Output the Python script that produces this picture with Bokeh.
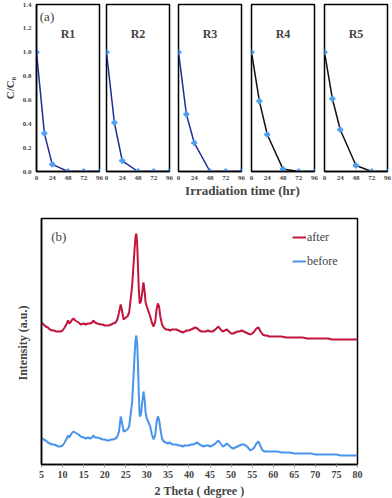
from bokeh.plotting import figure
from bokeh.layouts import column, row
from bokeh.models import Label, Legend, FixedTicker, Range1d, PrintfTickFormatter
from bokeh.embed import file_html
from bokeh.resources import INLINE

# ---------------- data: panel (a) photocatalytic runs ----------------
time_hr = [0, 12, 24, 48, 72, 96]
run_names = ["R1", "R2", "R3", "R4", "R5"]
r1 = [1.0, 0.32, 0.06, 0.0, 0.0, 0.0]
r2 = [1.0, 0.41, 0.09, 0.0, 0.0, 0.0]
r3 = [1.0, 0.48, 0.24, 0.0, 0.0, 0.0]
r4 = [1.0, 0.59, 0.31, 0.02, 0.0, 0.0]
r5 = [1.0, 0.61, 0.35, 0.05, 0.0, 0.0]
run_values = [r1, r2, r3, r4, r5]
time_ticks = [0, 24, 48, 72, 96]
cc0_ticks = [0.0, 0.2, 0.4, 0.6, 0.8, 1.0, 1.2, 1.4]

# ---------------- data: panel (b) XRD patterns ----------------
two_theta = [
    5, 5.5, 6, 6.5, 7, 7.5, 8, 8.5, 9, 9.5, 10, 10.5, 11,
    11.3, 11.6, 12, 12.3, 12.6, 13, 13.4, 13.8, 14.3, 15,
    15.5, 16, 16.5, 17, 17.3, 17.7, 18.2, 19, 19.5, 20, 20.6, 21, 21.5, 22, 22.6, 23, 23.4,
    23.8, 24.1, 24.5, 25, 25.4, 25.8, 26.1, 26.5, 26.8, 27.1, 27.3, 27.5, 27.7, 27.9, 28.1, 28.3, 28.6, 28.9,
    29.2, 29.5, 29.7, 30, 30.4, 30.8, 31.2, 31.6, 32, 32.3, 32.6, 32.9, 33.2, 33.6, 34, 34.5, 35,
    35.5, 36, 36.5, 37, 37.5, 38, 38.5, 39, 39.5, 40, 40.5, 41, 41.5, 42, 42.5, 43, 43.5, 44, 44.5, 45,
    45.5, 46, 46.5, 47, 47.5, 48, 48.5, 49, 49.5, 50, 50.5, 51, 51.5, 52, 52.5, 53, 53.5, 54,
    54.6, 55, 55.5, 56, 56.5, 57, 57.5, 58, 58.5, 59,
    60, 61, 62, 63, 64, 65, 66, 67, 68, 69, 70, 71, 72, 73, 74, 75, 76, 77, 78, 79, 80,
]
before = [
    27, 25, 24, 22, 21, 20, 20, 19, 18, 18, 19, 22, 26,
    29, 27, 30, 32, 33, 32, 31, 30, 28, 27,
    26, 27, 26, 27, 29, 27, 27, 26, 25, 25, 24, 24, 25, 25, 26, 28, 33,
    48, 42, 33, 34, 35, 38, 48, 62, 85, 110, 124, 129, 122, 100, 70, 48, 50, 62,
    73, 64, 52, 46, 42, 38, 30, 25, 30, 42, 48, 45, 36, 26, 23, 22, 21,
    22, 20, 20, 20, 19, 19, 18, 19, 19, 19, 20, 20, 21, 22, 20, 19, 18, 19, 19, 18,
    19, 20, 22, 24, 21, 18, 19, 21, 19, 17, 16, 17, 18, 19, 20, 20, 19, 17,
    14, 15, 17, 21, 23, 18, 14, 13, 13, 13,
    13, 13, 12, 12, 12, 11, 11, 11, 11, 11, 10, 10, 10, 10, 10, 10, 9, 9, 9, 9, 9,
]
after = [
    142, 140, 138, 137, 135, 134, 134, 133, 133, 133, 134, 137, 141,
    144, 141, 143, 145, 146, 144, 143, 142, 140, 141,
    140, 141, 141, 142, 144, 142, 141, 140, 140, 139, 139, 139, 140, 141, 142, 145, 152,
    160, 154, 145, 147, 148, 152, 163, 178, 197, 216, 227, 231, 222, 198, 175, 161, 163, 172,
    182, 172, 162, 158, 153, 148, 142, 138, 143, 155, 161, 158, 148, 140, 137, 135, 135,
    134, 135, 135, 135, 134, 133, 132, 133, 134, 134, 135, 136, 137, 136, 134, 133, 133, 133, 134, 133,
    133, 134, 136, 138, 135, 133, 134, 135, 133, 131, 131, 132, 133, 133, 134, 133, 132, 131,
    130, 131, 133, 136, 137, 133, 130, 129, 129, 128,
    128, 128, 128, 127, 127, 127, 127, 127, 126, 126, 126, 126, 126, 126, 125, 125, 125, 125, 125, 125, 125,
]
theta_ticks = list(range(5, 81, 5))

FONT = "Liberation Serif"
NAVY = "#1d2c96"
MARK = "#4f9ef2"
RED = "#c0163d"
BLUE = "#4a94ec"

# left/right borders of each small panel (sets the gaps between frames)
left_borders = [31, 3, 5, 6, 6]
right_borders = [4, 4, 4, 4, 6]

# ---------------- panel (a) ----------------
top_figs = []
for i, (name, vals) in enumerate(zip(run_names, run_values)):
    first = (i == 0)
    p = figure(frame_width=63, frame_height=167,
               x_range=Range1d(0, 96), y_range=Range1d(0, 1.4),
               output_backend="svg", toolbar_location=None,
               min_border_top=4, min_border_right=right_borders[i],
               min_border_left=left_borders[i], min_border_bottom=2)
    p.grid.visible = False
    p.outline_line_color = "black"
    p.outline_line_width = 1.5
    p.background_fill_color = "white"
    p.xaxis.ticker = FixedTicker(ticks=time_ticks)
    p.xaxis.major_label_text_font = FONT
    p.xaxis.major_label_text_font_style = "bold"
    p.xaxis.major_label_text_font_size = "7px"
    p.xaxis.major_tick_out = 0
    p.xaxis.major_tick_in = 0
    p.xaxis.minor_tick_out = 0
    p.xaxis.minor_tick_in = 0
    p.xaxis.major_label_standoff = 4
    p.xaxis.axis_line_width = 1.5
    if first:
        p.yaxis.ticker = FixedTicker(ticks=cc0_ticks)
        p.yaxis.formatter = PrintfTickFormatter(format="%.1f")
        p.yaxis.major_label_text_font = FONT
        p.yaxis.major_label_text_font_style = "bold"
        p.yaxis.major_label_text_font_size = "7px"
        p.yaxis.major_tick_out = 0
        p.yaxis.major_tick_in = 0
        p.yaxis.minor_tick_out = 0
        p.yaxis.minor_tick_in = 0
        p.yaxis.major_label_standoff = 5
        p.yaxis.axis_line_width = 1.5
        p.yaxis.axis_label = "C/C\u2080"
        p.yaxis.axis_label_text_font = FONT
        p.yaxis.axis_label_text_font_style = "bold"
        p.yaxis.axis_label_text_font_size = "11px"
        p.yaxis.axis_label_standoff = 4
        p.add_layout(Label(x=5, y=1.30, text="(a)", text_font=FONT,
                           text_font_size="13px", text_baseline="middle"))
    else:
        p.yaxis.visible = False
    line_color = NAVY if i < 3 else "#111111"
    p.line(time_hr, vals, line_color=line_color, line_width=1.5)
    p.scatter(time_hr, vals, marker="plus", size=5, fill_color=MARK,
              line_color=MARK)
    p.add_layout(Label(x=48, y=1.15, text=name, text_font=FONT,
                       text_font_style="bold", text_font_size="12px",
                       text_align="center", text_baseline="middle"))
    top_figs.append(p)

# x-axis title shared by the five panels
lab = figure(width=388, height=18, output_backend="svg", toolbar_location=None,
             x_range=Range1d(0, 1), y_range=Range1d(0, 1),
             min_border=0)
lab.axis.visible = False
lab.grid.visible = False
lab.outline_line_color = None
lab.add_layout(Label(x=201, y=10, x_units="screen", y_units="screen",
                     text="Irradiation time (hr)", text_font=FONT,
                     text_font_style="bold", text_font_size="13px",
                     text_align="center", text_baseline="middle"))

# ---------------- panel (b) ----------------
pb = figure(frame_width=316, frame_height=246,
            x_range=Range1d(5, 80), y_range=Range1d(0, 246),
            output_backend="svg", toolbar_location=None,
            min_border_top=18, min_border_left=41, min_border_right=10,
            min_border_bottom=4)
pb.grid.visible = False
pb.outline_line_color = "black"
pb.outline_line_width = 1.5
pb.xaxis.ticker = FixedTicker(ticks=theta_ticks)
pb.xaxis.major_label_text_font = FONT
pb.xaxis.major_label_text_font_style = "bold"
pb.xaxis.major_label_text_font_size = "10px"
pb.xaxis.major_tick_out = 3
pb.xaxis.major_tick_in = 0
pb.xaxis.major_tick_line_color = "#999999"
pb.xaxis.minor_tick_out = 0
pb.xaxis.minor_tick_in = 0
pb.xaxis.axis_line_width = 1.5
pb.xaxis.major_label_standoff = 3
pb.xaxis.axis_label = "2 Theta ( degree )"
pb.xaxis.axis_label_text_font = FONT
pb.xaxis.axis_label_text_font_style = "bold"
pb.xaxis.axis_label_text_font_size = "12px"
pb.xaxis.axis_label_standoff = 3
pb.yaxis.ticker = FixedTicker(ticks=[])
pb.yaxis.minor_tick_out = 0
pb.yaxis.minor_tick_in = 0
pb.yaxis.axis_line_width = 1.5
pb.yaxis.axis_label = "Intensity  (a.u.)"
pb.yaxis.axis_label_text_font = FONT
pb.yaxis.axis_label_text_font_style = "bold"
pb.yaxis.axis_label_text_font_size = "12px"
pb.yaxis.axis_label_standoff = 12

r_after = pb.line(two_theta, after, line_color=RED, line_width=2)
r_before = pb.line(two_theta, before, line_color=BLUE, line_width=2)
pb.add_layout(Label(x=7.3, y=228, text="(b)", text_font=FONT,
                    text_font_size="13px", text_baseline="middle"))

legend = Legend(items=[("after", [r_after]), ("before", [r_before])],
                location=(251, 193), label_text_font=FONT,
                label_text_font_size="12px", glyph_width=14, glyph_height=10,
                label_height=20, label_standoff=1, spacing=4, padding=0,
                margin=0, border_line_color=None, background_fill_alpha=0)
pb.add_layout(legend)

layout = column(row(*top_figs), lab, pb)

open("out.html", "w").write(file_html(layout, INLINE))
